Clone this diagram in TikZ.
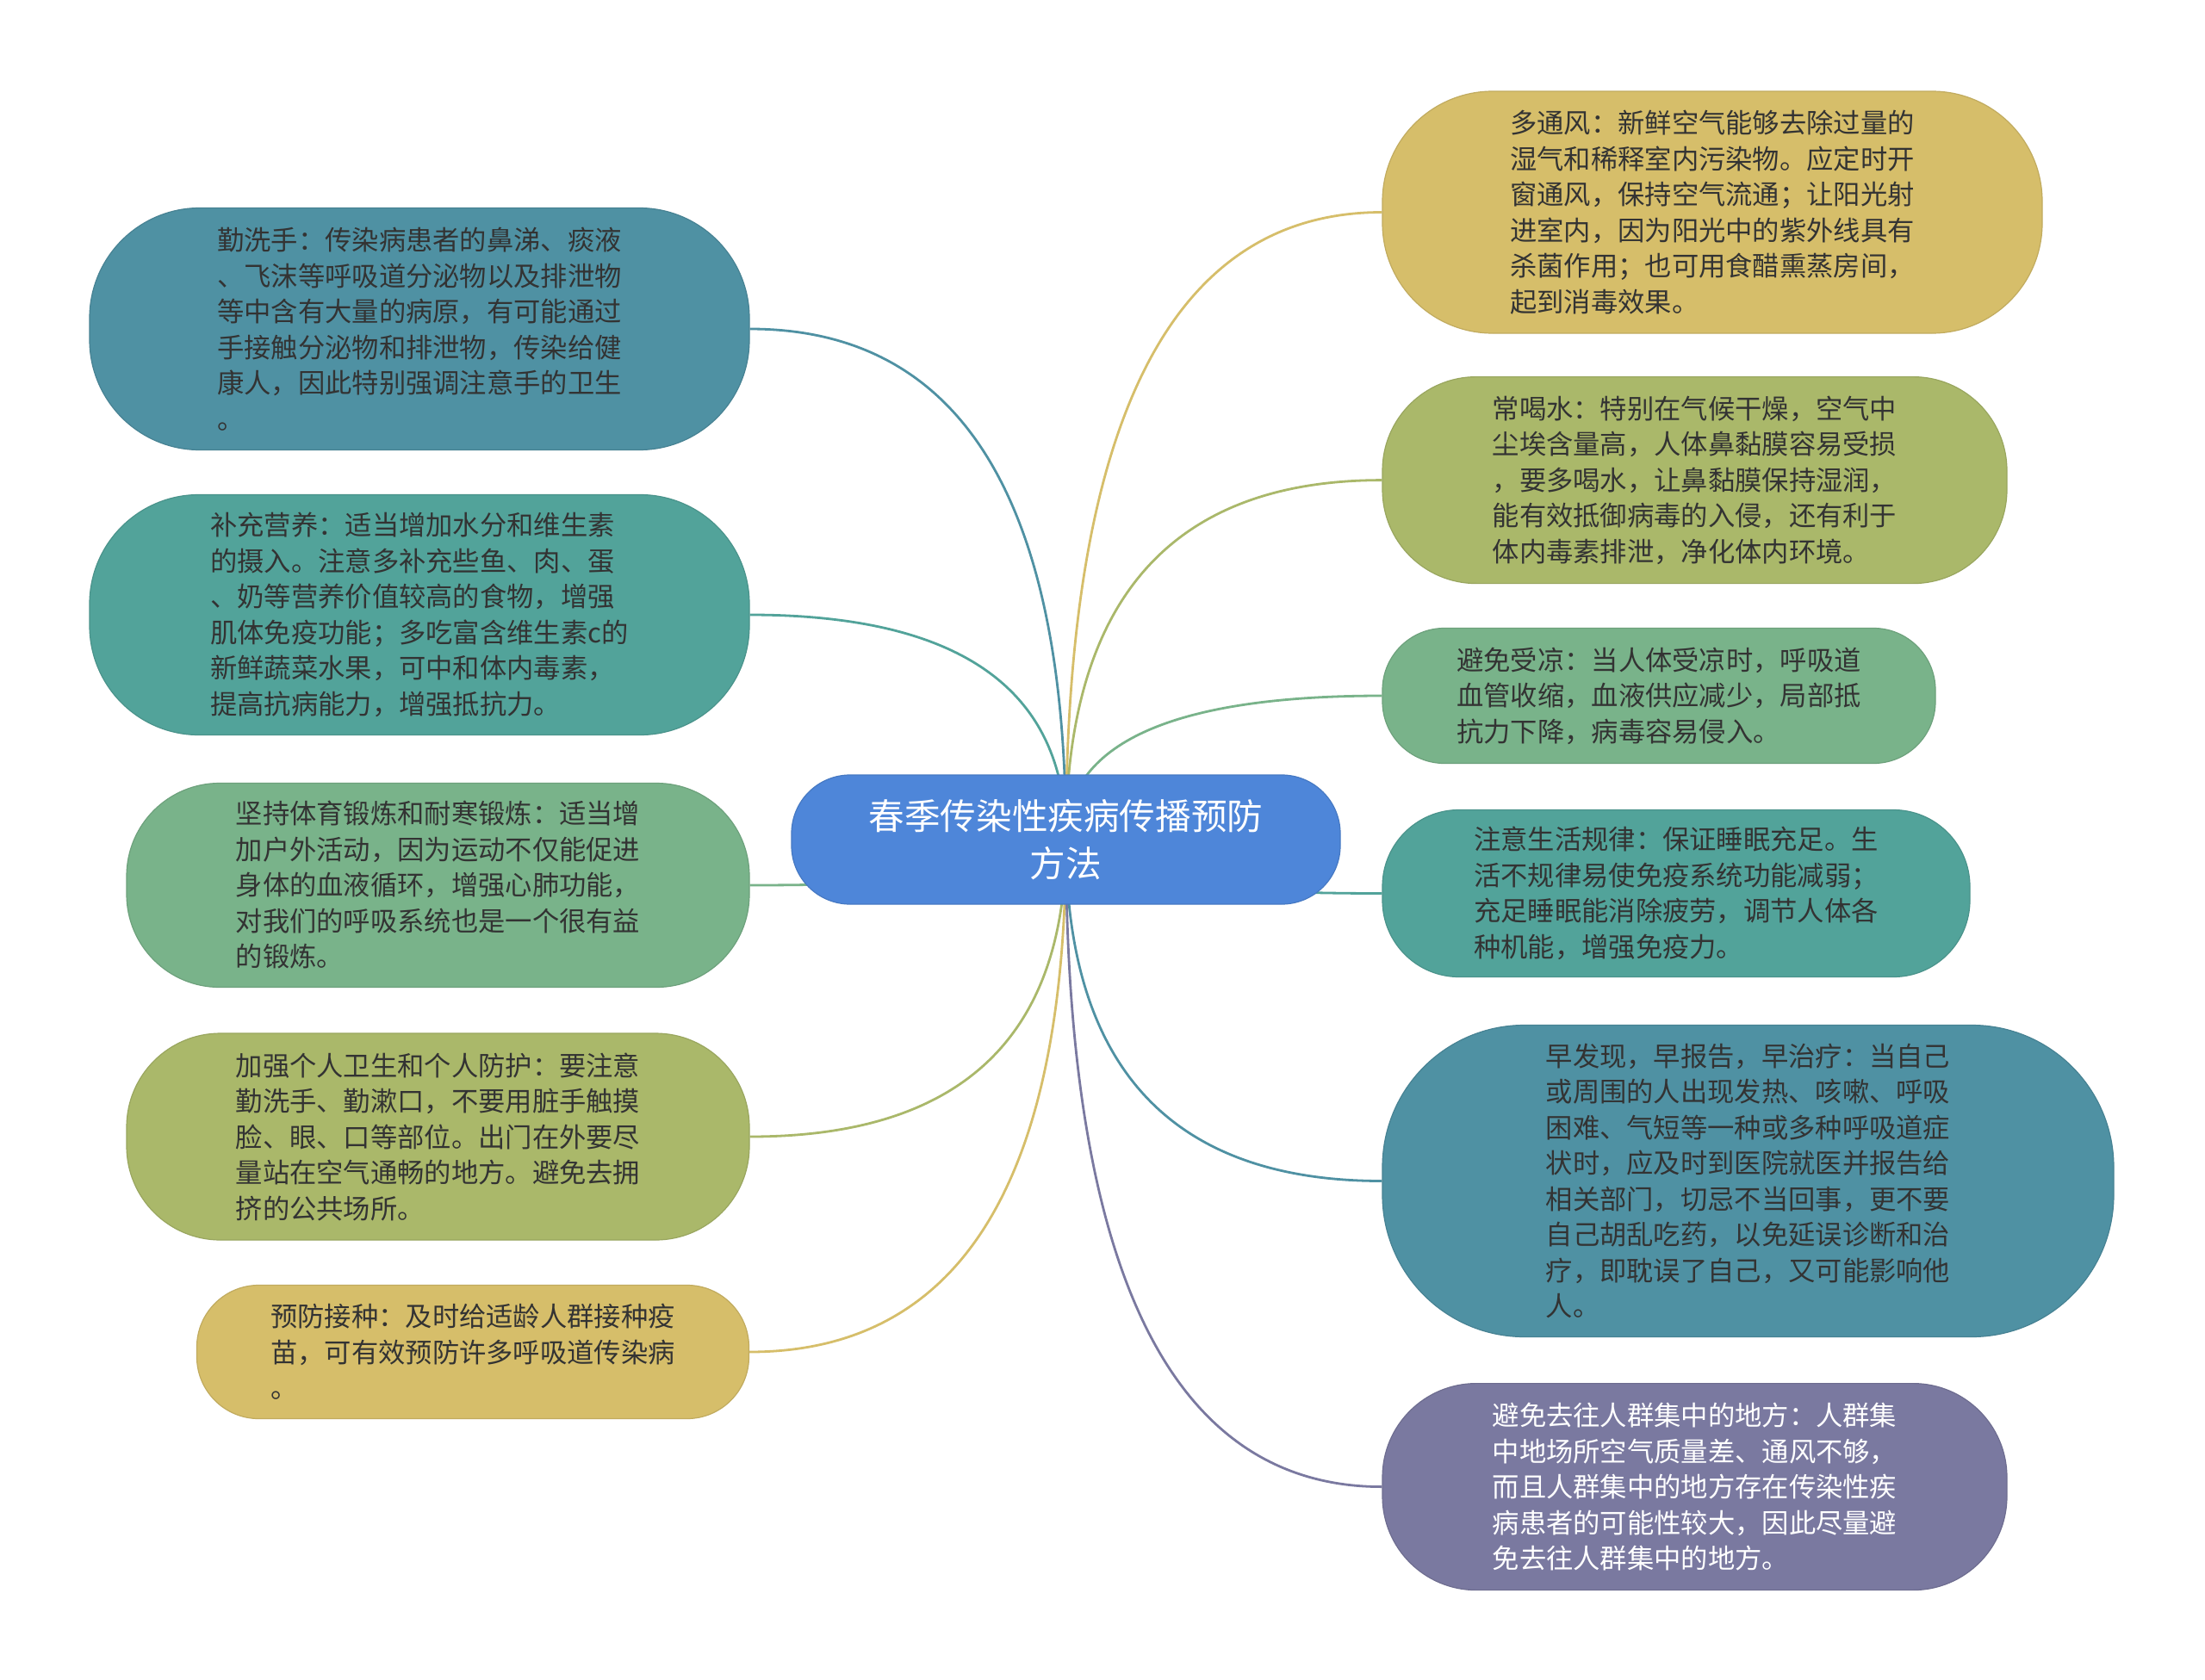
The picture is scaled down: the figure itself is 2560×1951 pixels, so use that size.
\documentclass[tikz,border=0pt]{standalone}
\usepackage{fontspec}
\setmainfont{Noto Sans CJK SC}
\usetikzlibrary{backgrounds,calc}
\pgfdeclarelayer{bottom}
\pgfdeclarelayer{background}
\pgfsetlayers{bottom,background,main}
\definecolor{cTeal}{HTML}{4F91A3}
\definecolor{cTealG}{HTML}{52A39A}
\definecolor{cGreen}{HTML}{79B38A}
\definecolor{cOlive}{HTML}{AAB86A}
\definecolor{cYellow}{HTML}{D6BE6A}
\definecolor{cPurple}{HTML}{7A79A0}
\definecolor{cCenter}{HTML}{4E86D9}
\definecolor{txtdark}{HTML}{333333}
\newcommand\mmlink[2]{%
  \draw[conn,#1] (c.center) .. controls ($(c.center)!0.667!(c.center |- #2)$) and ($(#2)!0.667!(c.center |- #2)$) .. (#2);}
\begin{document}
\begin{tikzpicture}[x=1pt,y=-1pt,
  box/.style={rounded corners=#1, inner sep=0pt, align=left, text=txtdark,
    font=\fontsize{31.3}{41.5}\selectfont, line width=1.2pt},
  conn/.style={line width=2.8pt}]
\begin{pgfonlayer}{bottom}
\fill[white] (0,0) rectangle (2560,1951);
\end{pgfonlayer}
\useasboundingbox (0,0) rectangle (2560,1951);

\node[box=68, fill=cCenter, draw=cCenter!90!black, minimum width=637pt, minimum height=150pt,
  align=center, text=white, font=\fontsize{41.6}{55.5}\selectfont] (c) at (1237.5,975)
  {春季传染性疾病传播预防\\方法};

% left
\node[box=128, fill=cTeal, draw=cTeal!90!black, minimum width=766pt, minimum height=281pt] (l1) at (487,382)
{勤洗手：传染病患者的鼻涕、痰液\\、飞沫等呼吸道分泌物以及排泄物\\等中含有大量的病原，有可能通过\\手接触分泌物和排泄物，传染给健\\康人，因此特别强调注意手的卫生\\。};
\node[box=127, fill=cTealG, draw=cTealG!90!black, minimum width=766pt, minimum height=279pt] (l2) at (487,714)
{补充营养：适当增加水分和维生素\\的摄入。注意多补充些鱼、肉、蛋\\、奶等营养价值较高的食物，增强\\肌体免疫功能；多吃富含维生素c的\\新鲜蔬菜水果，可中和体内毒素，\\提高抗病能力，增强抵抗力。};
\node[box=108, fill=cGreen, draw=cGreen!90!black, minimum width=723pt, minimum height=237pt] (l3) at (508.5,1028)
{坚持体育锻炼和耐寒锻炼：适当增\\加户外活动，因为运动不仅能促进\\身体的血液循环，增强心肺功能，\\对我们的呼吸系统也是一个很有益\\的锻炼。};
\node[box=109, fill=cOlive, draw=cOlive!90!black, minimum width=723pt, minimum height=240pt] (l4) at (508.5,1320)
{加强个人卫生和个人防护：要注意\\勤洗手、勤漱口，不要用脏手触摸\\脸、眼、口等部位。出门在外要尽\\量站在空气通畅的地方。避免去拥\\挤的公共场所。};
\node[box=72, fill=cYellow, draw=cYellow!90!black, minimum width=641pt, minimum height=155pt] (l5) at (549,1570)
{预防接种：及时给适龄人群接种疫\\苗，可有效预防许多呼吸道传染病\\。};

% right
\node[box=128, fill=cYellow, draw=cYellow!90!black, minimum width=766pt, minimum height=281pt] (r1) at (1988,246.5)
{多通风：新鲜空气能够去除过量的\\湿气和稀释室内污染物。应定时开\\窗通风，保持空气流通；让阳光射\\进室内，因为阳光中的紫外线具有\\杀菌作用；也可用食醋熏蒸房间，\\起到消毒效果。};
\node[box=109, fill=cOlive, draw=cOlive!90!black, minimum width=725pt, minimum height=240pt] (r2) at (1967.5,557.6)
{常喝水：特别在气候干燥，空气中\\尘埃含量高，人体鼻黏膜容易受损\\，要多喝水，让鼻黏膜保持湿润，\\能有效抵御病毒的入侵，还有利于\\体内毒素排泄，净化体内环境。};
\node[box=72, fill=cGreen, draw=cGreen!90!black, minimum width=642pt, minimum height=157pt] (r3) at (1926,808)
{避免受凉：当人体受凉时，呼吸道\\血管收缩，血液供应减少，局部抵\\抗力下降，病毒容易侵入。};
\node[box=89, fill=cTealG, draw=cTealG!90!black, minimum width=682pt, minimum height=194pt] (r4) at (1946,1037.5)
{注意生活规律：保证睡眠充足。生\\活不规律易使免疫系统功能减弱；\\充足睡眠能消除疲劳，调节人体各\\种机能，增强免疫力。};
\node[box=165, fill=cTeal, draw=cTeal!90!black, minimum width=849pt, minimum height=362pt] (r5) at (2029.5,1371.5)
{早发现，早报告，早治疗：当自己\\或周围的人出现发热、咳嗽、呼吸\\困难、气短等一种或多种呼吸道症\\状时，应及时到医院就医并报告给\\相关部门，切忌不当回事，更不要\\自己胡乱吃药，以免延误诊断和治\\疗，即耽误了自己，又可能影响他\\人。};
\node[box=109, fill=cPurple, draw=cPurple!90!black, minimum width=725pt, minimum height=240pt, text=white] (r6) at (1967.5,1726.6)
{避免去往人群集中的地方：人群集\\中地场所空气质量差、通风不够，\\而且人群集中的地方存在传染性疾\\病患者的可能性较大，因此尽量避\\免去往人群集中的地方。};

\begin{pgfonlayer}{background}
\mmlink{cTeal}{l1.east}
\mmlink{cTealG}{l2.east}
\mmlink{cGreen}{l3.east}
\mmlink{cOlive}{l4.east}
\mmlink{cYellow}{l5.east}
\mmlink{cYellow}{r1.west}
\mmlink{cOlive}{r2.west}
\mmlink{cGreen}{r3.west}
\mmlink{cTealG}{r4.west}
\mmlink{cTeal}{r5.west}
\mmlink{cPurple}{r6.west}
\end{pgfonlayer}
\end{tikzpicture}
\end{document}
